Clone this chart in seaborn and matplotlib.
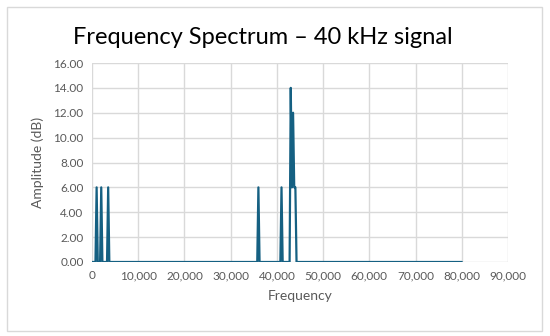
import numpy as np
import pandas as pd
import matplotlib
matplotlib.use("Agg")
import matplotlib.pyplot as plt
import seaborn as sns
from matplotlib.ticker import FuncFormatter, MultipleLocator
from matplotlib.patches import Rectangle

# spectrum points (Hz, dB)
freq = [0, 750, 1000, 1250, 1750, 2000, 2250, 3250, 3500, 3750,
        35750, 36000, 36250, 40750, 41000, 41250,
        42750, 43000, 43250, 43500, 43750, 44000, 44250, 80000]
amp = [0, 0, 6, 0, 0, 6, 0, 0, 6, 0,
       0, 6, 0, 0, 6, 0,
       0, 14, 6, 12, 6, 6, 0, 0]

df = pd.DataFrame({"Frequency": freq, "Amplitude": amp})

sns.set_theme(style="white")
plt.rcParams['font.family'] = ['Lato', 'DejaVu Sans']

fig = plt.figure(figsize=(5.5, 3.36), dpi=100)
ax = fig.add_axes([92 / 550, 1 - 262 / 336, (508 - 92) / 550, (262 - 63) / 336])

sns.lineplot(data=df, x="Frequency", y="Amplitude", ax=ax, color="#156082",
             linewidth=1.6, sort=False, zorder=3)

ax.set_xlim(0, 90000)
ax.set_ylim(0, 16)
ax.xaxis.set_major_locator(MultipleLocator(10000))
ax.yaxis.set_major_locator(MultipleLocator(2))
ax.xaxis.set_major_formatter(FuncFormatter(lambda v, p: f"{int(v):,}"))
ax.yaxis.set_major_formatter(FuncFormatter(lambda v, p: f"{v:.2f}"))
ax.grid(True, color="#d9d9d9", linewidth=1.0)
for s in ax.spines.values():
    s.set_visible(False)
ax.tick_params(axis="both", length=0, labelsize=8.5, colors="#595959", pad=6)

ax.set_xlabel("Frequency", fontsize=10, color="#595959", labelpad=6)
ax.set_ylabel("Amplitude (dB)", fontsize=10, color="#595959", labelpad=7)
fig.text(0.477, 1 - 37 / 336, "Frequency Spectrum \u2013 40 kHz signal",
         ha="center", va="center", fontsize=17, color="#000000")

fig.patches.append(Rectangle((7 / 550, 1 - 331 / 336), (542 - 7) / 550, (331 - 7) / 336,
                             transform=fig.transFigure, fill=False,
                             edgecolor="#d9d9d9", linewidth=1.0))

fig.savefig("out.png", dpi=100)
